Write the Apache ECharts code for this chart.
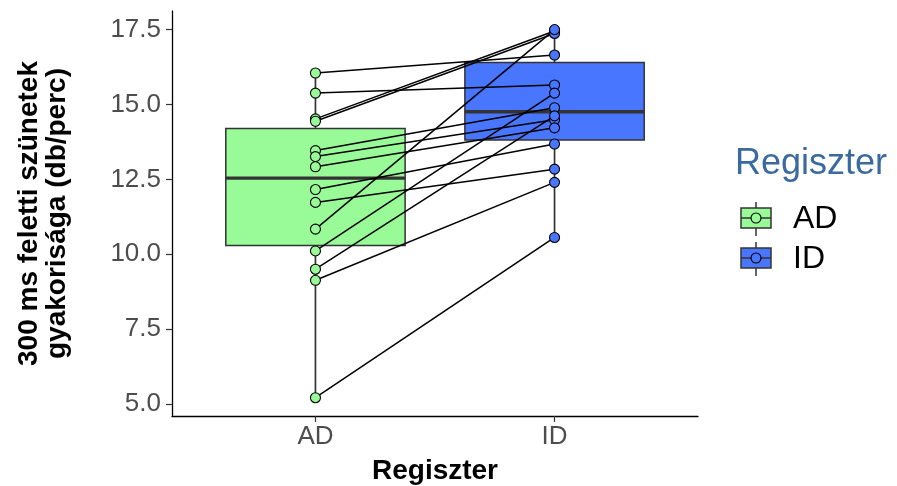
<!DOCTYPE html>
<html>
<head>
<meta charset="utf-8">
<script src="https://cdn.jsdelivr.net/npm/echarts@6/dist/echarts.min.js"></script>
<style>html,body{margin:0;padding:0;background:#fff}#c{width:897px;height:486px}</style>
</head>
<body>
<div id="c"></div>
<script>
const categories = ['AD', 'ID'];
// paired values (same index = same speaker)
const adValues = [16.05, 15.38, 14.52, 14.44, 13.46, 13.26, 12.92, 12.16, 11.73, 10.84, 10.11, 9.50, 9.13, 5.21];
const idValues = [16.65, 15.65, 17.45, 17.37, 14.89, 14.49, 14.22, 13.68, 12.84, 17.50, 15.38, 14.62, 12.40, 10.56];
const yTicks = [5, 7.5, 10, 12.5, 15, 17.5];
const fillColors = ['#99FB98', '#4876FF'];
const legendTitle = 'Regiszter';
const xTitle = 'Regiszter';
const yTitle = '300 ms feletti szünetek\ngyakorisága (db/perc)';

function quantile(arr, p) {
  const s = arr.slice().sort((a, b) => a - b);
  const h = (s.length - 1) * p;
  const lo = Math.floor(h), hi = Math.ceil(h);
  return s[lo] + (h - lo) * (s[hi] - s[lo]);
}
function boxStats(arr, xPos) {
  const q1 = quantile(arr, 0.25), md = quantile(arr, 0.5), q3 = quantile(arr, 0.75);
  const iqr = q3 - q1;
  const inside = arr.filter(v => v >= q1 - 1.5 * iqr && v <= q3 + 1.5 * iqr);
  return [xPos, Math.min(...inside), q1, md, q3, Math.max(...inside)];
}
const groups = [adValues, idValues];
const boxData = groups.map((g, i) => boxStats(g, i + 1));

const FONT = 'Liberation Sans, Arial, sans-serif';
const chart = echarts.init(document.getElementById('c'), null, {renderer: 'canvas'});

const series = [];
series.push({
  type: 'custom',
  z: 1,
  data: boxData,
  renderItem: function (params, api) {
    const x = api.value(0);
    const mn = api.value(1), q1 = api.value(2), md = api.value(3), q3 = api.value(4), mx = api.value(5);
    const half = 0.375;
    const c = api.coord([x, md]);
    const tl = api.coord([x - half, q3]);
    const br = api.coord([x + half, q1]);
    const pMin = api.coord([x, mn]);
    const pMax = api.coord([x, mx]);
    const mL = api.coord([x - half, md]);
    const mR = api.coord([x + half, md]);
    const stroke = '#333333';
    return {
      type: 'group',
      children: [
        {type: 'line', shape: {x1: c[0], y1: pMax[1], x2: c[0], y2: tl[1]}, style: {stroke: stroke, lineWidth: 1.7}},
        {type: 'line', shape: {x1: c[0], y1: br[1], x2: c[0], y2: pMin[1]}, style: {stroke: stroke, lineWidth: 1.7}},
        {type: 'rect', shape: {x: tl[0], y: tl[1], width: br[0] - tl[0], height: br[1] - tl[1]}, style: {fill: fillColors[params.dataIndex], stroke: stroke, lineWidth: 1.5}},
        {type: 'line', shape: {x1: mL[0], y1: mL[1], x2: mR[0], y2: mR[1]}, style: {stroke: stroke, lineWidth: 3.4}}
      ]
    };
  }
});
for (let i = 0; i < adValues.length; i++) {
  series.push({
    type: 'line',
    z: 2,
    silent: true,
    symbol: 'none',
    lineStyle: {color: '#000', width: 1.5},
    data: [[1, adValues[i]], [2, idValues[i]]]
  });
}
groups.forEach((g, gi) => {
  series.push({
    type: 'scatter',
    z: 3,
    symbol: 'circle',
    symbolSize: 10,
    itemStyle: {color: fillColors[gi], borderColor: '#000', borderWidth: 1.1, opacity: 1},
    data: g.map(v => [gi + 1, v])
  });
});

const option = {
  animation: false,
  backgroundColor: '#fff',
  grid: {left: 172, right: 199, top: 11, bottom: 70, containLabel: false, outerBoundsMode: 'none'},
  xAxis: {
    type: 'value', min: 0.4, max: 2.6,
    axisLine: {show: true, lineStyle: {color: '#000', width: 1.3}},
    axisTick: {show: true, length: 6, lineStyle: {color: '#333', width: 1.2}, customValues: [1, 2]},
    axisLabel: {customValues: [1, 2], formatter: v => categories[Math.round(v) - 1], color: '#4D4D4D', fontSize: 26, fontFamily: FONT, margin: 8},
    splitLine: {show: false},
    name: xTitle, nameLocation: 'middle', nameGap: 41,
    nameTextStyle: {color: '#000', fontSize: 28, fontWeight: 'bold', fontFamily: FONT}
  },
  yAxis: {
    type: 'value', min: 4.6, max: 18.12,
    axisLine: {show: true, lineStyle: {color: '#000', width: 1.3}},
    axisTick: {show: true, length: 6, lineStyle: {color: '#333', width: 1.2}, customValues: yTicks},
    axisLabel: {customValues: yTicks, formatter: v => v.toFixed(1), color: '#4D4D4D', fontSize: 26, fontFamily: FONT, margin: 11},
    splitLine: {show: false},
    name: yTitle, nameLocation: 'middle', nameRotate: 90, nameGap: 101,
    nameTextStyle: {color: '#000', fontSize: 28, fontWeight: 'bold', fontFamily: FONT, lineHeight: 28, align: 'center'}
  },
  graphic: [
    {type: 'text', x: 735, y: 164, style: {text: legendTitle, fill: '#3A6A9E', fontSize: 36, fontFamily: FONT, verticalAlign: 'middle'}},
    // AD key
    {type: 'line', shape: {x1: 756, y1: 202, x2: 756, y2: 236}, style: {stroke: '#333', lineWidth: 1.5}},
    {type: 'rect', shape: {x: 741, y: 208, width: 30, height: 20}, style: {fill: fillColors[0], stroke: '#333', lineWidth: 1.5}},
    {type: 'line', shape: {x1: 741, y1: 218, x2: 771, y2: 218}, style: {stroke: '#333', lineWidth: 1.5}},
    {type: 'circle', shape: {cx: 756, cy: 218, r: 5}, style: {fill: fillColors[0], stroke: '#000', lineWidth: 1.1}},
    {type: 'text', x: 793, y: 219, style: {text: categories[0], fill: '#000', fontSize: 32, fontFamily: FONT, verticalAlign: 'middle'}},
    // ID key
    {type: 'line', shape: {x1: 756, y1: 242, x2: 756, y2: 276}, style: {stroke: '#333', lineWidth: 1.5}},
    {type: 'rect', shape: {x: 741, y: 248, width: 30, height: 20}, style: {fill: fillColors[1], stroke: '#333', lineWidth: 1.5}},
    {type: 'line', shape: {x1: 741, y1: 258, x2: 771, y2: 258}, style: {stroke: '#333', lineWidth: 1.5}},
    {type: 'circle', shape: {cx: 756, cy: 258, r: 5}, style: {fill: fillColors[1], stroke: '#000', lineWidth: 1.1}},
    {type: 'text', x: 793, y: 259, style: {text: categories[1], fill: '#000', fontSize: 32, fontFamily: FONT, verticalAlign: 'middle'}}
  ],
  series: series
};
chart.setOption(option);
</script>
</body>
</html>
